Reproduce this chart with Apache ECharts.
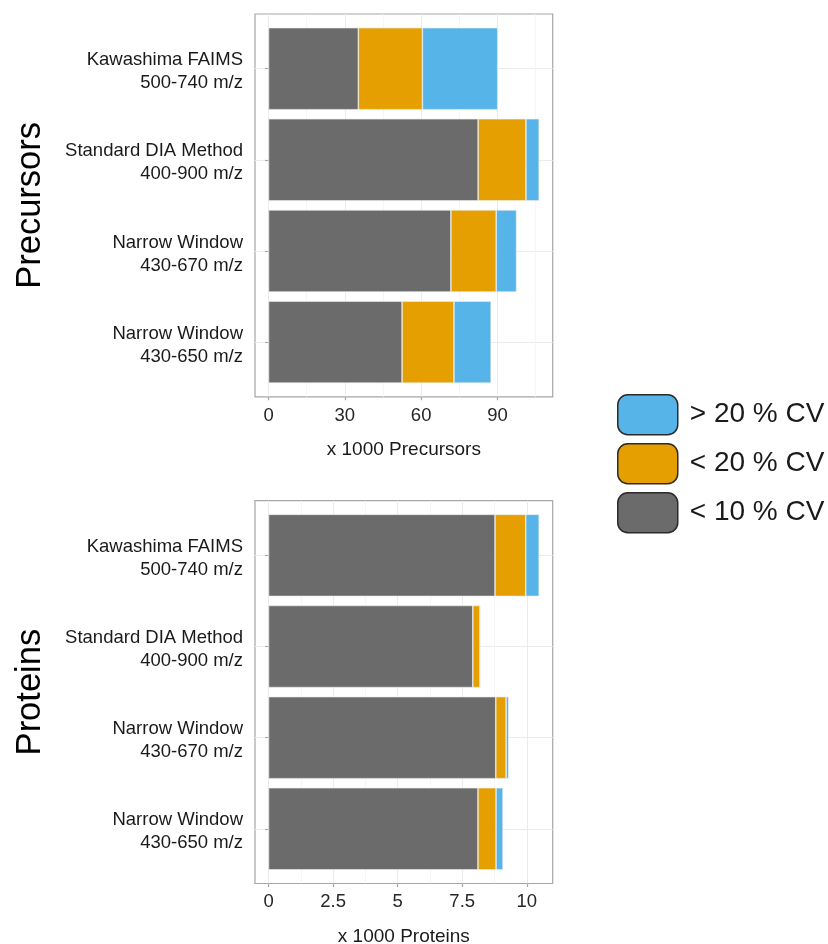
<!DOCTYPE html>
<html>
<head>
<meta charset="utf-8">
<script src="https://cdn.jsdelivr.net/npm/echarts@6/dist/echarts.min.js"></script>
<style>
  html, body { margin: 0; padding: 0; background: #ffffff; }
  #chart { width: 828px; height: 944px; }
</style>
</head>
<body>
<div id="chart"></div>
<script>
// Acquisition methods (top to bottom)
const methods = [
  'Kawashima FAIMS\n500-740 m/z',
  'Standard DIA Method\n400-900 m/z',
  'Narrow Window\n430-670 m/z',
  'Narrow Window\n430-650 m/z'
];
// CV classes, stacked left to right
const cvClasses = ['< 10 % CV', '< 20 % CV', '> 20 % CV'];
const cvColors = ['#6b6b6b', '#e69f00', '#56b4e9'];

// Precursors (x 1000), count in each CV class
const precursorsLt10 = [35.3, 82.4, 71.7, 52.5];
const precursorsLt20 = [25.2, 18.8, 17.8, 20.4];
const precursorsGt20 = [29.6, 5.2, 8.0, 14.6];

// Proteins (x 1000), count in each CV class
const proteinsLt10 = [8.77, 7.91, 8.80, 8.11];
const proteinsLt20 = [1.19, 0.28, 0.40, 0.70];
const proteinsGt20 = [0.52, 0.02, 0.10, 0.27];

// Axis tick values
const precursorTicks = [0, 30, 60, 90];
const precursorMinor = [15, 45, 75, 105];
const proteinTicks = [0, 2.5, 5, 7.5, 10];
const proteinMinor = [1.25, 3.75, 6.25, 8.75];

const FONT = '"Liberation Sans", Arial, sans-serif';
const GRID_COLOR = '#ebebeb';
const FRAME_COLOR = '#a6a6a6';

const panels = [
  { title: 'Precursors', axisTitle: 'x 1000 Precursors', top: 14, nameGap: 43, labelMargin: 10,
    series: [precursorsLt10, precursorsLt20, precursorsGt20],
    ticks: precursorTicks, minor: precursorMinor },
  { title: 'Proteins', axisTitle: 'x 1000 Proteins', top: 500.7, nameGap: 44, labelMargin: 9,
    series: [proteinsLt10, proteinsLt20, proteinsGt20],
    ticks: proteinTicks, minor: proteinMinor }
];

const PANEL_LEFT = 255;
const PANEL_WIDTH = 297.7;
const PANEL_HEIGHT = 382.8;

const grid = [], xAxis = [], yAxis = [], series = [];

panels.forEach((p, i) => {
  // stacked totals decide the value range (5 % padding on both sides)
  const totals = methods.map((_, k) => p.series.reduce((s, arr) => s + arr[k], 0));
  const maxTotal = Math.max(...totals);
  const pad = maxTotal * 0.05;
  const xmin = -pad, xmax = maxTotal + pad;

  // discrete axis: categories 1..n with 0.6 of padding at each end
  const band = PANEL_HEIGHT / (methods.length + 0.2);

  const frameGrid = grid.length;
  grid.push({
    left: PANEL_LEFT, top: p.top, width: PANEL_WIDTH, height: PANEL_HEIGHT,
    outerBoundsMode: 'none',
    show: true, borderColor: FRAME_COLOR, borderWidth: 1.2, backgroundColor: '#fff'
  });
  const barGrid = grid.length;
  grid.push({
    left: PANEL_LEFT, top: p.top + band * 0.1, width: PANEL_WIDTH,
    height: band * methods.length, outerBoundsMode: 'none'
  });

  // visible value axis with major gridlines
  xAxis.push({
    type: 'value', gridIndex: frameGrid, min: xmin, max: xmax, position: 'bottom',
    name: p.axisTitle, nameLocation: 'middle', nameGap: p.nameGap,
    nameTextStyle: { fontFamily: FONT, fontSize: 19, color: '#1a1a1a' },
    axisLine: { show: false },
    axisTick: { show: true, length: 3.5, customValues: p.ticks,
                lineStyle: { color: FRAME_COLOR, width: 1.2 } },
    axisLabel: { customValues: p.ticks, margin: p.labelMargin, fontFamily: FONT, fontSize: 18.5,
                 color: '#262626' },
    splitLine: { show: true, lineStyle: { color: GRID_COLOR, width: 1 } }
  });
  // minor gridlines
  xAxis.push({
    type: 'value', gridIndex: frameGrid, min: xmin, max: xmax, position: 'top',
    axisLine: { show: false },
    axisTick: { show: false, customValues: p.minor },
    axisLabel: { show: false },
    splitLine: { show: true, lineStyle: { color: '#f2f2f2', width: 0.8 } }
  });
  // value axis carrying the bars
  const barX = xAxis.length;
  xAxis.push({
    type: 'value', gridIndex: barGrid, min: xmin, max: xmax, show: false
  });

  // frame y axis: horizontal gridlines at category centres + panel title
  yAxis.push({
    type: 'value', gridIndex: frameGrid, min: 0.4, max: methods.length + 0.6,
    name: p.title, nameLocation: 'middle', nameGap: 207,
    nameTextStyle: { fontFamily: FONT, fontSize: 34.5, color: '#000' },
    axisLine: { show: false },
    axisTick: { show: false, customValues: methods.map((_, k) => k + 1) },
    axisLabel: { show: false },
    splitLine: { show: true, lineStyle: { color: GRID_COLOR, width: 1 } }
  });
  const barY = yAxis.length;
  yAxis.push({
    type: 'category', gridIndex: barGrid, data: methods, inverse: true,
    axisLine: { show: false },
    axisTick: { show: true, alignWithLabel: true, length: 3.5,
                lineStyle: { color: FRAME_COLOR, width: 1.2 } },
    axisLabel: {
      margin: 12, color: '#1a1a1a', align: 'right',
      // two-line method label, nudged slightly below the tick
      formatter: v => v.split('\n').map(s => '{m|' + s + '}').join('\n') + '\n{gap|}',
      rich: {
        m: { fontFamily: FONT, fontSize: 18.5, lineHeight: 23, color: '#1a1a1a', align: 'right' },
        gap: { fontSize: 1, lineHeight: 0, height: 0 }
      },
      padding: [6, 0, 0, 0]
    },
    splitLine: { show: false }
  });

  p.series.forEach((values, c) => {
    series.push({
      type: 'bar', name: cvClasses[c], stack: 'cv' + i,
      xAxisIndex: barX, yAxisIndex: barY,
      data: values, barCategoryGap: '10%',
      itemStyle: { color: cvColors[c], borderColor: '#eeeeee', borderWidth: 0.6 },
      emphasis: { disabled: true }
    });
  });
});

const chart = echarts.init(document.getElementById('chart'), null, { renderer: 'canvas' });
chart.setOption({
  animation: false,
  backgroundColor: '#ffffff',
  grid, xAxis, yAxis, series,
  legend: {
    data: ['> 20 % CV', '< 20 % CV', '< 10 % CV'],
    orient: 'vertical', left: 612, top: 389,
    itemWidth: 60, itemHeight: 40, itemGap: 7.5,
    icon: 'roundRect',
    itemStyle: { borderColor: '#2b2b2b', borderWidth: 1.5 },
    textStyle: { fontFamily: FONT, fontSize: 28, color: '#1a1a1a', padding: [0, 0, 0, 7] },
    selectedMode: false
  }
});
</script>
</body>
</html>
